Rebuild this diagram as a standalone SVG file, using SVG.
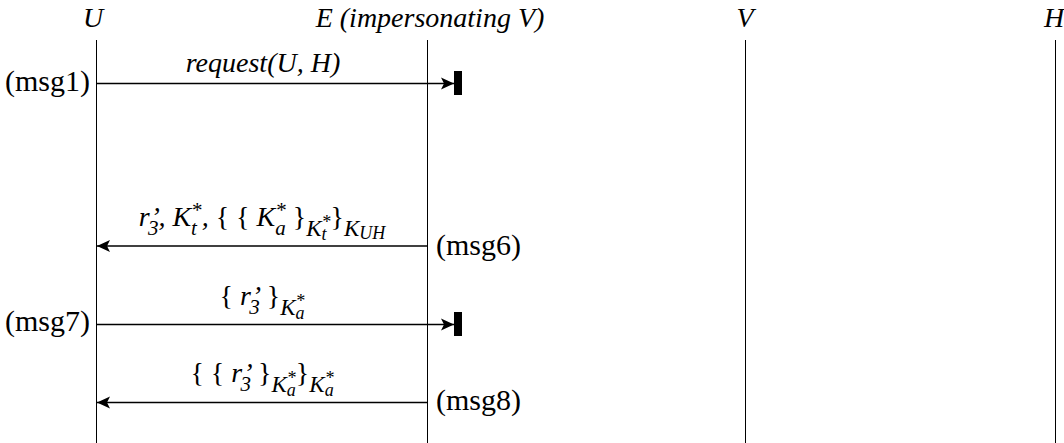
<svg xmlns="http://www.w3.org/2000/svg" width="1064" height="443" viewBox="0 0 1064 443">
<defs>
<marker id="ah" markerUnits="userSpaceOnUse" markerWidth="14" markerHeight="14" refX="13" refY="7" orient="auto">
<path d="M0,1 L13,7 L0,13 L3,7 z" fill="#000"/>
</marker>
</defs>
<style>
text { font-family: "Liberation Serif", "Times New Roman", serif; font-size: 28px; fill: #000; }
.i { font-style: italic; }
.n { font-style: normal; }
.tag { font-size: 30px; font-style: normal; }
.s1 { font-size: 21px; }
.sk { font-size: 23px; }
.s2 { font-size: 18px; }
.life { stroke: #000; stroke-width: 1; }
.msg { stroke: #000; stroke-width: 1.6; fill: none; marker-end: url(#ah); }
.bar { fill: #000; }
</style>
<rect width="1064" height="443" fill="#fff"/>
<g id="node-U">
<text class="i" x="93" y="27" text-anchor="middle">U</text>
<line class="life" x1="96.5" y1="40" x2="96.5" y2="443"/>
</g>
<g id="node-E">
<text class="i" x="430" y="27" text-anchor="middle">E (impersonating V)</text>
<line class="life" x1="427.5" y1="40" x2="427.5" y2="443"/>
</g>
<g id="node-V">
<text class="i" x="745" y="27" text-anchor="middle">V</text>
<line class="life" x1="745.5" y1="40" x2="745.5" y2="443"/>
</g>
<g id="node-H">
<text class="i" x="1054" y="27" text-anchor="middle">H</text>
<line class="life" x1="1055.5" y1="40" x2="1055.5" y2="443"/>
</g>
<g id="connectors">
<g id="msg1">
<path class="msg" d="M97,83.5 L454,83.5"/>
<rect class="bar" x="454" y="71" width="8" height="24"/>
<text class="i" x="263" y="72" text-anchor="middle">request(U, H)</text>
<text class="tag" x="90" y="91" text-anchor="end">(msg1)</text>
</g>
<g id="msg6">
<path class="msg" d="M427,246 L97,246"/>
<text class="i" x="262" y="226" text-anchor="middle">r’<tspan class="s1" dx="-12" dy="9">3</tspan><tspan dx="0" dy="-9">, K</tspan><tspan class="s1" dy="-9">*</tspan><tspan class="s1" dx="-10.5" dy="18">t</tspan><tspan dx="4.7" dy="-9">, </tspan><tspan class="n">{ { </tspan>K<tspan class="s1" dy="-9">*</tspan><tspan class="s1" dx="-10.5" dy="18">a</tspan><tspan class="n" dy="-9"> }</tspan><tspan class="sk" dy="10">K</tspan><tspan class="s2" dy="-8">*</tspan><tspan class="s2" dx="-9" dy="12">t</tspan><tspan class="n" dx="4" dy="-14">}</tspan><tspan class="sk" dy="10">K</tspan><tspan class="s2" dy="3">UH</tspan></text>
<text class="tag" x="436" y="255">(msg6)</text>
</g>
<g id="msg7">
<path class="msg" d="M97,324.5 L454,324.5"/>
<rect class="bar" x="454" y="312" width="8" height="24"/>
<text class="i" x="262" y="305" text-anchor="middle"><tspan class="n">{ </tspan>r’<tspan class="s1" dx="-12" dy="9">3</tspan><tspan class="n" dy="-9"> }</tspan><tspan class="sk" dy="10">K</tspan><tspan class="s2" dy="-8">*</tspan><tspan class="s2" dx="-9" dy="12">a</tspan></text>
<text class="tag" x="90" y="331" text-anchor="end">(msg7)</text>
</g>
<g id="msg8">
<path class="msg" d="M427,402.5 L97,402.5"/>
<text class="i" x="262" y="382" text-anchor="middle"><tspan class="n">{ { </tspan>r’<tspan class="s1" dx="-12" dy="9">3</tspan><tspan class="n" dy="-9"> }</tspan><tspan class="sk" dy="10">K</tspan><tspan class="s2" dy="-8">*</tspan><tspan class="s2" dx="-9" dy="12">a</tspan><tspan class="n" dy="-14">}</tspan><tspan class="sk" dy="10">K</tspan><tspan class="s2" dy="-8">*</tspan><tspan class="s2" dx="-9" dy="12">a</tspan></text>
<text class="tag" x="436" y="410">(msg8)</text>
</g>
</g>
</svg>
